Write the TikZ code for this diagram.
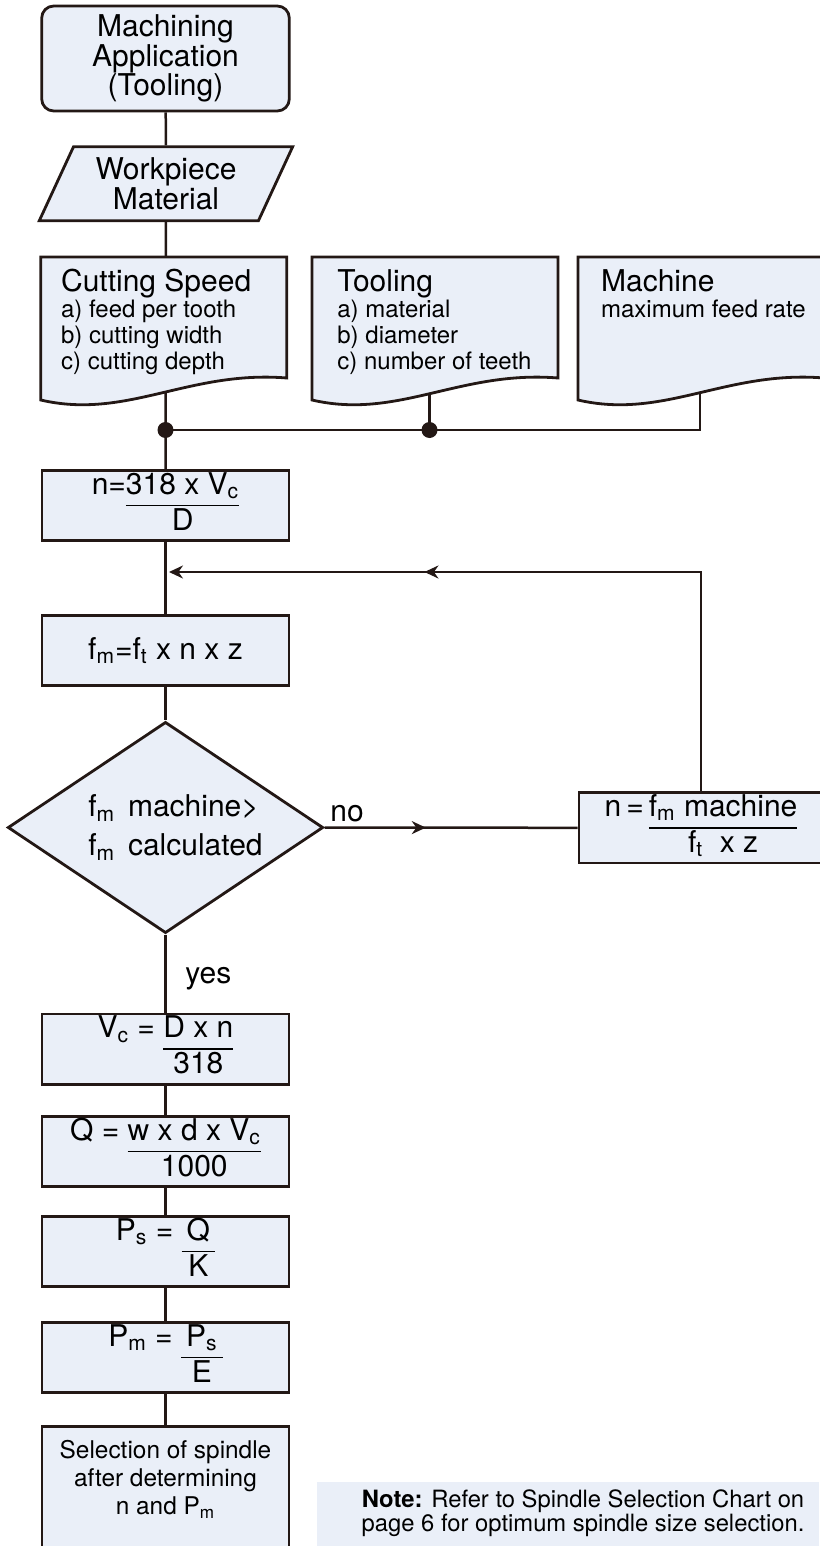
\documentclass[tikz,border=0pt]{standalone}
\usepackage{fontspec}
\setmainfont{TeX Gyre Heros}
\usetikzlibrary{arrows.meta,shapes.geometric,backgrounds,decorations.markings}
\definecolor{ink}{HTML}{231815}
\definecolor{paper}{HTML}{EAEFF8}
\setlength{\arrayrulewidth}{0.9pt}
\renewcommand{\arraystretch}{0.95}
\newcommand{\lowix}[1]{\textsubscript{#1}}
\newcommand{\frc}[2]{\begin{tabular}[t]{@{}c@{}}#1\\\hline #2\end{tabular}}
\newcommand{\doctitle}[1]{{\fontsize{15}{13}\selectfont #1}}
% document symbol, #1 = left edge
\newcommand{\docshape}[1]{\filldraw[docedge, shift={(#1,0)}] (0,400) -- (0,257) -- (246,257) -- (246,378) .. controls (148,370) and (86,420) .. (0,400) -- cycle;}
\tikzset{
  shapebase/.style={draw=ink, fill=paper, line width=1.4pt},
  startbox/.style={shapebase, rectangle, rounded corners=6pt, minimum width=123.8pt, minimum height=52.5pt, inner sep=0pt, align=center, font=\fontsize{15}{14.7}\selectfont},
  iobox/.style={shapebase, trapezium, trapezium left angle=57, trapezium right angle=123, trapezium stretches body, minimum width=126.7pt, minimum height=37pt, inner sep=0pt, align=center, font=\fontsize{15}{13.2}\selectfont},
  calcbox/.style={shapebase, rectangle, minimum width=123.5pt, minimum height=35pt, inner sep=0pt, font=\fontsize{15}{18}\selectfont},
  decision/.style={shapebase, diamond, aspect=1.49, minimum width=157.7pt, minimum height=105.6pt, inner sep=0pt, align=left, font=\fontsize{15}{19.5}\selectfont},
  docedge/.style={draw=ink, fill=paper, line width=1.4pt},
  doctext/.style={anchor=north west, inner sep=0pt, align=left, font=\fontsize{12}{13}\selectfont},
  link/.style={draw=ink, line width=1.25pt},
  tag/.style={anchor=base west, inner sep=0pt, font=\fontsize{15}{18}\selectfont},
  notetext/.style={inner sep=0pt, align=center, font=\fontsize{11.9}{11.7}\selectfont},
  midarrow/.style={postaction={decorate}, decoration={markings, mark=at position #1 with {\arrow{Stealth[length=7pt,width=6.5pt]}}}}
}

\begin{document}
\begin{tikzpicture}[x=0.5pt,y=-0.5pt]
\useasboundingbox (0,0) rectangle (819,1546);

% note at the foot
\fill[paper] (317,1482) rectangle (819,1546);
\node[notetext] (note) at (583,1513) {\textbf{Note:} Refer to Spindle Selection Chart on\\page 6 for optimum spindle size selection.};

% main column
\node[startbox] (app) at (165.5,58.5) {Machining\\Application\\(Tooling)};
\node[iobox] (work) at (166,183.7) {Workpiece\\Material};

% input documents
\docshape{40.7}
\docshape{312}
\docshape{578}
\node[doctext] (speed) at (60.7,269) {\doctitle{Cutting Speed}\\a) feed per tooth\\b) cutting width\\c) cutting depth};
\node[doctext] (tool) at (337,269) {\doctitle{Tooling}\\a) material\\b) diameter\\c) number of teeth};
\node[doctext] (machine) at (600.7,269) {\doctitle{Machine}\\maximum feed rate};

\coordinate (jspeed) at (165.5,430);
\coordinate (jtool) at (429.5,430);
\coordinate (mout) at (700,385);

\node[calcbox] (nform) at (165.5,505.5) {n=\frc{318 x V\lowix{c}}{D}};
\node[calcbox] (fmform) at (165.5,650.5) {f\lowix{m}=f\lowix{t} x n x z};
\node[decision] (check) at (165.5,827.5) {\hspace*{10pt}f\lowix{m}\hspace{0.15em} machine>\\\hspace*{10pt}f\lowix{m}\hspace{0.15em} calculated};
\node[calcbox, minimum width=122pt] (nmax) at (701,827.8) {n\,=\,\frc{f\lowix{m} machine}{f\lowix{t}\ \ x z}};
\node[calcbox, minimum height=34pt] (vcform) at (165.5,1049) {V\lowix{c} = \frc{D x n}{318}};
\node[calcbox, minimum height=34.5pt] (qform) at (165.5,1151.5) {Q = \frc{w x d x V\lowix{c}}{1000}};
\node[calcbox, minimum height=34.5pt] (psform) at (165.5,1251.5) {P\lowix{s} = \frc{\,Q\,}{K}};
\node[calcbox, minimum height=34.5pt] (pmform) at (165.5,1357.5) {P\lowix{m} = \frc{\,P\lowix{s}\,}{E}};
\node[calcbox, anchor=north, align=center, inner ysep=7pt, text depth=60pt, font=\fontsize{12.2}{14}\selectfont] (select) at (165.5,1425) {Selection of spindle\\after determining\\n and P\lowix{m}};

\node[tag] (yes) at (185,983) {yes};
\node[tag] (no) at (330,821.7) {no};

% connectors, kept behind the shapes
\begin{pgfonlayer}{background}
\draw[link] (app) -- (work) -- (jspeed) -- (nform);
\draw[link] (jtool) -- (jtool |- tool.south);
\draw[link] (mout) |- (jtool) -- (jspeed);
\draw[link] (nform) -- (fmform) -- (check) -- (vcform) -- (qform) -- (psform) -- (pmform) -- (select);
\end{pgfonlayer}
\fill[ink] (jspeed) circle (4pt);
\fill[ink] (jtool) circle (4pt);

% no branch and loop back
\coordinate (loopin) at (169,572);
\draw[link, midarrow=0.4] (check.east) -- (nmax.west);
\draw[link, midarrow=0.66, -{Stealth[length=7pt,width=6.5pt]}] (nmax.north) |- (loopin);
\end{tikzpicture}
\end{document}
